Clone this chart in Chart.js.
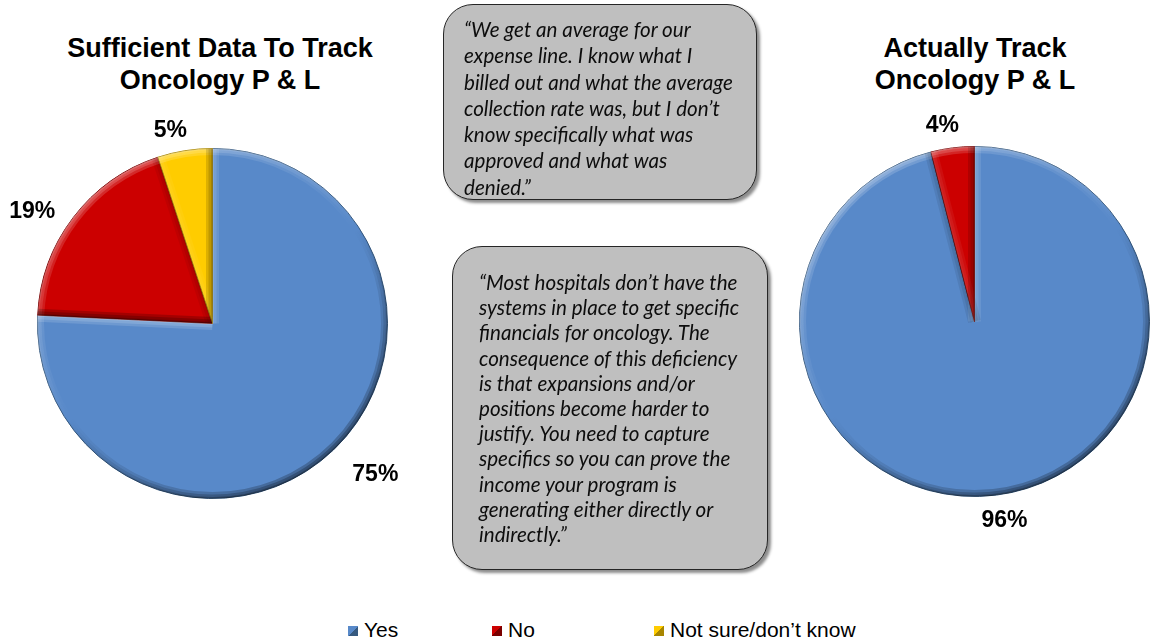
<!DOCTYPE html>
<html>
<head>
<meta charset="utf-8">
<script src="https://cdn.jsdelivr.net/npm/chart.js@4.4.1/dist/chart.umd.min.js"></script>
<style>
  html, body { margin: 0; padding: 0; background: #ffffff; }
  body { width: 1150px; height: 642px; position: relative; overflow: hidden;
         font-family: "Liberation Sans", Arial, sans-serif; color: #000; }
  .title { position: absolute; font-weight: bold; font-size: 27px; line-height: 32px;
           text-align: center; white-space: nowrap; }
  .pie { position: absolute; }
  .pie canvas { display: block; }
  .quote { position: absolute; box-sizing: border-box; background: #bfbfbf;
           border: 1.5px solid #262626; border-radius: 30px;
           box-shadow: 3px 3px 3px rgba(0,0,0,0.45);
           font-family: Lato, "Open Sans", sans-serif; font-style: italic;
           font-size: 20.6px; color: #0d0d0d; white-space: pre; }
  .legend-item { position: absolute; top: 618px; height: 24px; font-size: 21px;
                 line-height: 24px; white-space: nowrap; }
  .legend-swatch { position: absolute; left: 0; top: 8px; width: 10px; height: 10px; }
  .legend-text { position: absolute; left: 16px; top: 0; }
</style>
</head>
<body>

<div class="title" style="left:0; top:32px; width:440px;">Sufficient Data To Track<br>Oncology P &amp; L</div>
<div class="title" style="left:825px; top:32px; width:300px;">Actually Track<br>Oncology P &amp; L</div>

<div class="pie" style="left:-23px; top:88px; width:471px; height:471px;"><canvas id="sufficientPie"></canvas></div>
<div class="pie" style="left:739px; top:86px; width:471px; height:471px;"><canvas id="trackPie"></canvas></div>

<div class="quote" style="left:443px; top:4px; width:314px; height:196px; padding:11px 0 0 20px; line-height:26.3px;">“We get an average for our
expense line. I know what I
billed out and what the average
collection rate was, but I don’t
know specifically what was
approved and what was
denied.”</div>

<div class="quote" style="left:452px; top:246px; width:316px; height:324px; padding:23px 0 0 26px; line-height:25.2px;">“Most hospitals don’t have the
systems in place to get specific
financials for oncology. The
consequence of this deficiency
is that expansions and/or
positions become harder to
justify. You need to capture
specifics so you can prove the
income your program is
generating either directly or
indirectly.”</div>

<div id="legend"></div>

<script>
// Answer categories shared by both pies
const categories = ['Yes', 'No', 'Not sure/don’t know'];

// "Sufficient data to track oncology P & L" (percent of respondents)
const sufficientValues = [75, 19, 5];

// "Actually track oncology P & L" (percent of respondents)
const trackCategories = ['Yes', 'No'];
const trackValues = [96, 4];

const sliceColors = ['#5889c9', '#cc0000', '#ffcc00'];
const sliceEdges  = ['#36597f', '#7a0000', '#a88600'];

// Light comes from the upper left; used to shade the slice bevels
const LIGHT = (() => { const lx = -0.55, ly = -0.83, n = Math.hypot(lx, ly); return [lx / n, ly / n]; })();

function shadeColor(s, a) {
  return s >= 0 ? `rgba(255,255,255,${(a * s).toFixed(3)})` : `rgba(0,0,0,${(-a * s).toFixed(3)})`;
}

// Chamfered bevel: every edge of each slice gets a band lit by its outward normal
const bevelPlugin = {
  id: 'bevel',
  afterDatasetsDraw(chart) {
    const ctx = chart.ctx;
    const widths = [13, 8, 3];
    const lightA = 0.17, darkA = 0.24;
    chart.getDatasetMeta(0).data.forEach(arc => {
      const { x, y, startAngle, endAngle, outerRadius: r } =
        arc.getProps(['x', 'y', 'startAngle', 'endAngle', 'outerRadius'], true);
      ctx.save();
      ctx.beginPath();
      ctx.moveTo(x, y);
      ctx.arc(x, y, r, startAngle, endAngle);
      ctx.closePath();
      ctx.clip();
      // outer rim
      widths.forEach(w => {
        const grad = ctx.createLinearGradient(x + LIGHT[0] * r, y + LIGHT[1] * r, x - LIGHT[0] * r, y - LIGHT[1] * r);
        grad.addColorStop(0, `rgba(255,255,255,${lightA})`);
        grad.addColorStop(0.5, 'rgba(255,255,255,0)');
        grad.addColorStop(0.5, 'rgba(0,0,0,0)');
        grad.addColorStop(1, `rgba(0,0,0,${darkA})`);
        ctx.beginPath();
        ctx.arc(x, y, r, startAngle, endAngle);
        ctx.lineWidth = w;
        ctx.strokeStyle = grad;
        ctx.stroke();
      });
      // radial edges, skipped when the slice is the whole circle
      if (endAngle - startAngle < Math.PI * 2 - 1e-6) {
        const edges = [
          { a: startAngle, n: [Math.sin(startAngle), -Math.cos(startAngle)] },
          { a: endAngle,   n: [-Math.sin(endAngle), Math.cos(endAngle)] }
        ];
        edges.forEach(ed => {
          const s = ed.n[0] * LIGHT[0] + ed.n[1] * LIGHT[1];
          widths.forEach(w => {
            ctx.beginPath();
            ctx.moveTo(x, y);
            ctx.lineTo(x + Math.cos(ed.a) * r, y + Math.sin(ed.a) * r);
            ctx.lineWidth = w;
            ctx.strokeStyle = shadeColor(s, s >= 0 ? lightA : darkA);
            ctx.stroke();
          });
        });
      }
      ctx.restore();
    });
  }
};

// Percent labels placed outside each slice
const percentLabelPlugin = {
  id: 'percentLabels',
  afterDatasetsDraw(chart, args, opts) {
    const ctx = chart.ctx;
    const values = chart.data.datasets[0].data;
    ctx.save();
    ctx.font = 'bold 23px "Liberation Sans", Arial, sans-serif';
    ctx.fillStyle = '#000';
    ctx.textAlign = 'center';
    ctx.textBaseline = 'middle';
    chart.getDatasetMeta(0).data.forEach((arc, i) => {
      const { x, y, startAngle, endAngle, outerRadius } =
        arc.getProps(['x', 'y', 'startAngle', 'endAngle', 'outerRadius'], true);
      const f = opts.fraction[i], d = opts.distance[i];
      const a = startAngle + (endAngle - startAngle) * f;
      ctx.fillText(values[i] + '%', x + Math.cos(a) * (outerRadius + d), y + Math.sin(a) * (outerRadius + d));
    });
    ctx.restore();
  }
};

function makePie(id, labels, values, placement) {
  return new Chart(document.getElementById(id), {
    type: 'pie',
    data: {
      labels: labels,
      datasets: [{
        data: values,
        backgroundColor: sliceColors.slice(0, values.length),
        borderColor: sliceEdges.slice(0, values.length),
        borderWidth: 1
      }]
    },
    options: {
      responsive: true,
      maintainAspectRatio: false,
      animation: false,
      events: [],
      layout: { padding: 60 },
      plugins: {
        legend: { display: false },
        tooltip: { enabled: false },
        percentLabels: placement
      }
    },
    plugins: [bevelPlugin, percentLabelPlugin]
  });
}

makePie('sufficientPie', categories, sufficientValues, { fraction: [0.487, 0.42, 0.32], distance: [47, 37, 22] });
makePie('trackPie', trackCategories, trackValues, { fraction: [0.496, 0.35], distance: [26, 23] });

// Shared legend below both pies
const legendLeft = [348, 492, 654];
const legend = document.getElementById('legend');
categories.forEach((name, i) => {
  const item = document.createElement('div');
  item.className = 'legend-item';
  item.style.left = legendLeft[i] + 'px';
  const sw = document.createElement('div');
  sw.className = 'legend-swatch';
  sw.style.background = `linear-gradient(135deg, ${sliceColors[i]} 50%, ${sliceEdges[i]} 50%)`;
  const tx = document.createElement('div');
  tx.className = 'legend-text';
  tx.textContent = name;
  item.appendChild(sw);
  item.appendChild(tx);
  legend.appendChild(item);
});
</script>
</body>
</html>
